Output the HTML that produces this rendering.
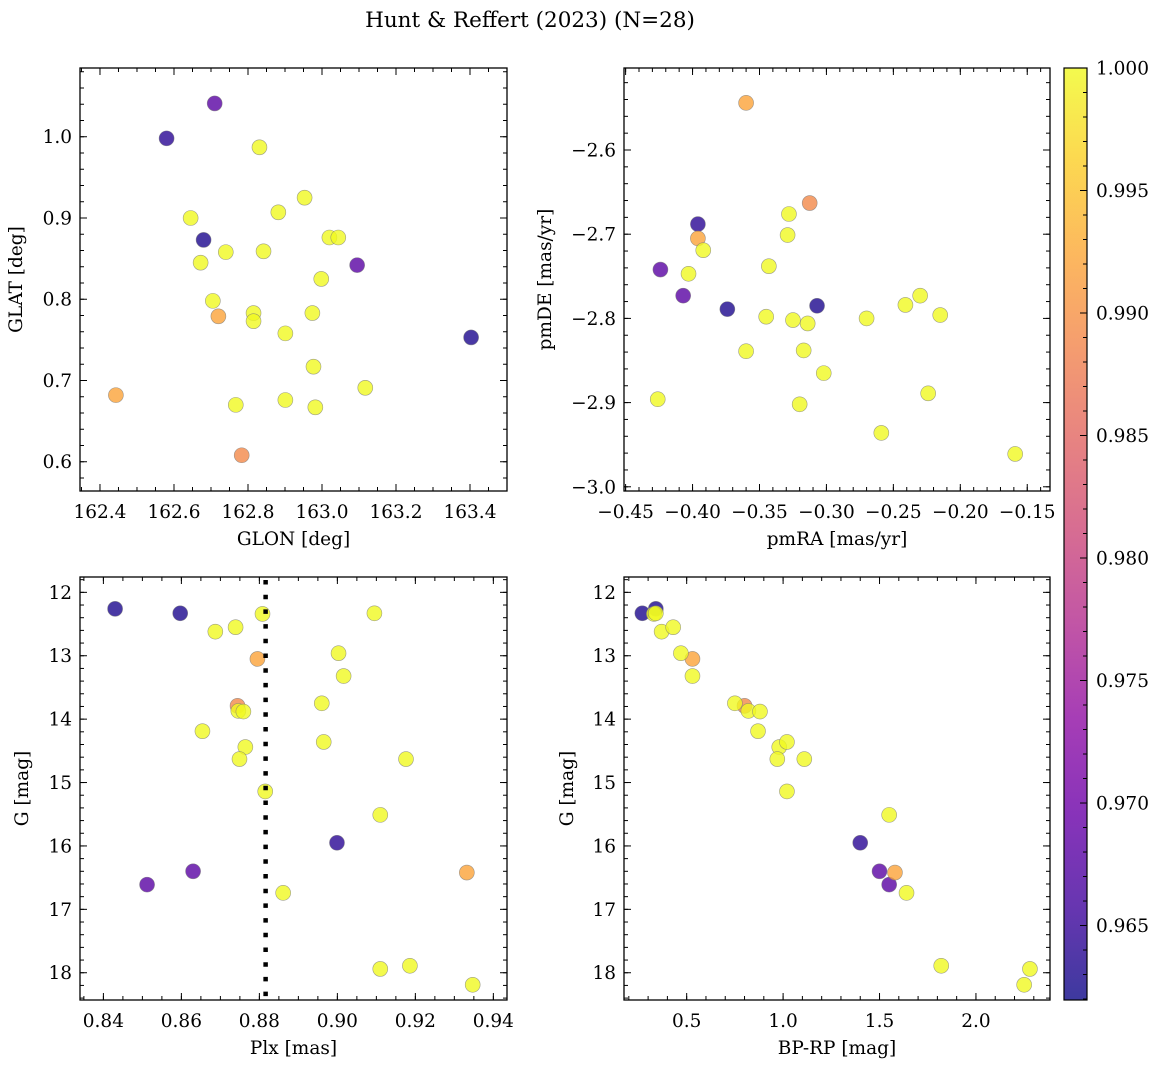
<!DOCTYPE html>
<html><head><meta charset="utf-8"><style>
body{margin:0;background:#fff;}
svg{display:block;font-family:"DejaVu Serif","Liberation Serif",serif;}
</style></head><body>
<svg id="chart" width="1161" height="1067" viewBox="0 0 1161 1067" xmlns="http://www.w3.org/2000/svg">
<defs>
<linearGradient id="plasma" x1="0" y1="1" x2="0" y2="0">
<stop offset="0" stop-color="#0d0887"/><stop offset="0.1" stop-color="#41049d"/><stop offset="0.2" stop-color="#6a00a8"/><stop offset="0.3" stop-color="#8f0da4"/><stop offset="0.4" stop-color="#b12a90"/><stop offset="0.5" stop-color="#cc4778"/><stop offset="0.6" stop-color="#e16462"/><stop offset="0.7" stop-color="#f2844b"/><stop offset="0.8" stop-color="#fca636"/><stop offset="0.9" stop-color="#fcce25"/><stop offset="1" stop-color="#f0f921"/>
</linearGradient>
</defs>
<text x="530" y="27" font-size="21.5" text-anchor="middle">Hunt &amp; Reffert (2023) (N=28)</text>
</svg>
<script>
const prob = [0.963,0.963,0.964,0.968,0.968,0.992,0.992,0.989,1,1,1,1,1,1,1,1,1,1,1,1,1,1,1,1,1,1,1,1];
const glon = [162.68,163.403,162.58,162.71,163.095,162.443,162.72,162.783,162.831,162.645,162.953,162.882,163.02,163.044,162.672,162.74,162.842,162.998,162.705,162.815,162.815,162.901,162.974,162.977,163.117,162.767,162.901,162.982];
const glat = [0.873,0.753,0.998,1.041,0.842,0.682,0.779,0.608,0.987,0.900,0.925,0.907,0.876,0.876,0.845,0.858,0.859,0.825,0.798,0.783,0.773,0.758,0.783,0.717,0.691,0.670,0.676,0.667];
const pmra = [-0.307,-0.374,-0.396,-0.424,-0.407,-0.360,-0.396,-0.3125,-0.392,-0.403,-0.343,-0.328,-0.329,-0.345,-0.325,-0.314,-0.360,-0.317,-0.302,-0.320,-0.426,-0.270,-0.241,-0.230,-0.215,-0.224,-0.259,-0.159];
const pmde = [-2.785,-2.789,-2.688,-2.742,-2.773,-2.544,-2.705,-2.663,-2.719,-2.747,-2.738,-2.676,-2.701,-2.798,-2.802,-2.806,-2.839,-2.838,-2.865,-2.902,-2.896,-2.800,-2.784,-2.773,-2.796,-2.889,-2.936,-2.961];
const plx = [0.843,0.8597,0.8999,0.863,0.8512,0.8795,0.9332,0.8744,0.8808,0.9095,0.8687,0.8739,0.9003,0.9016,0.896,0.8746,0.8759,0.8654,0.8764,0.8965,0.8749,0.9176,0.8815,0.911,0.8861,0.9186,0.911,0.9347];
const bprp = [0.34,0.27,1.40,1.50,1.55,0.53,1.58,0.80,0.33,0.34,0.37,0.43,0.47,0.53,0.75,0.82,0.88,0.87,0.98,1.02,0.97,1.11,1.02,1.55,1.64,1.82,2.28,2.25];
const gmag = [12.26,12.33,15.95,16.40,16.61,13.05,16.42,13.79,12.34,12.33,12.62,12.55,12.96,13.32,13.75,13.87,13.88,14.19,14.44,14.36,14.63,14.63,15.14,15.51,16.74,17.89,17.94,18.19];
const plxRef = [0.8816];
const cbTicks = ["0.965","0.970","0.975","0.980","0.985","0.990","0.995","1.000"];

const NS="http://www.w3.org/2000/svg";
const svg=document.getElementById('chart');
const FS=18.5;
function mk(tag,attrs,parent){const e=document.createElementNS(NS,tag);for(const k in attrs)e.setAttribute(k,attrs[k]);(parent||svg).appendChild(e);return e;}
const stops=[[13,8,135],[65,4,157],[106,0,168],[143,13,164],[177,42,144],[204,71,120],[225,100,98],[242,132,75],[252,166,54],[252,206,37],[240,249,33]];
const vmin=0.96196,vmax=1.0;
function cmap(v){let t=(v-vmin)/(vmax-vmin);t=Math.max(0,Math.min(1,t));const f=t*10,i=Math.min(9,Math.floor(f)),r=f-i;const a=stops[i],b=stops[i+1];return 'rgb('+a.map((c,k)=>Math.round(c+(b[k]-c)*r)).join(',')+')';}
function fmt(v,d){const s=v.toFixed(d);return v<0?'\u2212'+s.slice(1):s;}

function panel(name,box,xd,yd,xMaj,xMin,xDec,yMaj,yMin,yDec,xlab,ylab,ylabX,xs,ys){
  const [L,T,R,B]=box;
  const g=mk('g',{});
  
  
  const sx=v=>L+(v-xd[0])/(xd[1]-xd[0])*(R-L);
  const sy=v=>T+(yd[1]-v)/(yd[1]-yd[0])*(B-T);
  const eps=1e-9;
  function ticks(step,lo,hi){const a=[];for(let v=Math.ceil(lo/step-eps)*step;v<=hi+eps;v+=step)a.push(Math.round(v/step)*step);return a;}
  const tg=mk('g',{stroke:'#000','stroke-width':1},g);
  
  
  ticks(xMin,xd[0],xd[1]).forEach(v=>{const x=sx(v);mk('line',{x1:x,x2:x,y1:B,y2:B-4},tg);mk('line',{x1:x,x2:x,y1:T,y2:T+4},tg);});
  ticks(yMin,Math.min(...yd),Math.max(...yd)).forEach(v=>{const y=sy(v);mk('line',{x1:L,x2:L+4,y1:y,y2:y},tg);mk('line',{x1:R,x2:R-4,y1:y,y2:y},tg);});
  ticks(xMaj,xd[0],xd[1]).forEach(v=>{const x=sx(v);mk('line',{x1:x,x2:x,y1:B,y2:B-7},tg);mk('line',{x1:x,x2:x,y1:T,y2:T+7},tg);
    const t=mk('text',{x:x,y:B+27,'font-size':FS,'text-anchor':'middle',stroke:'none',fill:'#000'},g);t.textContent=fmt(v,xDec);
    
    });
  ticks(yMaj,Math.min(...yd),Math.max(...yd)).forEach(v=>{const y=sy(v);mk('line',{x1:L,x2:L+7,y1:y,y2:y},tg);mk('line',{x1:R,x2:R-7,y1:y,y2:y},tg);
    const t=mk('text',{x:L-8,y:y+6.5,'font-size':FS,'text-anchor':'end',fill:'#000'},g);t.textContent=fmt(v,yDec);
    
    });
  const xl=mk('text',{x:(L+R)/2,y:B+54,'font-size':FS,'text-anchor':'middle'},g);xl.textContent=xlab;
  
  
  const yl=mk('text',{x:ylabX,y:(T+B)/2,'font-size':FS,'text-anchor':'middle',transform:'rotate(-90 '+ylabX+' '+(T+B)/2+')'},g);yl.textContent=ylab;
  
  
  const cp='clip-'+name;
  const c=mk('clipPath',{id:cp},g);mk('rect',{x:L,y:T,width:R-L,height:B-T},c);
  const pg=mk('g',{'clip-path':'url(#'+cp+')'},g);
  
  
  for(let i=0;i<xs.length;i++){
    const p=mk('circle',{cx:sx(xs[i]),cy:sy(ys[i]),r:7.5,fill:cmap(prob[i]),'fill-opacity':0.8,stroke:'#777','stroke-opacity':0.7,'stroke-width':0.6},pg);
    
    
  }
  const sp=mk('rect',{x:L,y:T,width:R-L,height:B-T,fill:'none',stroke:'#000','stroke-width':1.3},g);
  
  
  return {sx,sy,pg};
}

panel('glon-glat-panel',[80,68,507,491],[162.346,163.5],[0.564,1.0846],0.2,0.05,1,0.1,0.02,1,'GLON [deg]','GLAT [deg]',22,glon,glat);
panel('pm-panel',[624,68,1050,491],[-0.4512,-0.133],[-3.005,-2.5026],0.05,0.01,2,0.1,0.02,1,'pmRA [mas/yr]','pmDE [mas/yr]',551,pmra,pmde);
const bl=panel('plx-g-panel',[80,577,507,1000],[0.834,0.9435],[18.43,11.758],0.02,0.005,2,1,0.2,0,'Plx [mas]','G [mag]',28,plx,gmag);
panel('cmd-panel',[624,577,1050,1000],[0.175,2.384],[18.43,11.758],0.5,0.1,1,1,0.2,0,'BP-RP [mag]','G [mag]',573,bprp,gmag);

plxRef.forEach(v=>{const x=bl.sx(v);
  const l=mk('line',{x1:x,x2:x,y1:580,y2:1000,stroke:'#000','stroke-width':4.5,'stroke-dasharray':'4.5 10.2'});
  
  });

const cbT=68,cbB=1000,cbL=1064,cbR=1087;
const cb=mk('rect',{x:cbL,y:cbT,width:cbR-cbL,height:cbB-cbT,fill:'url(#plasma)','fill-opacity':0.8,stroke:'#000','stroke-width':1.2});


const cy=v=>cbB-(v-vmin)/(vmax-vmin)*(cbB-cbT);
for(let k=Math.ceil(vmin*1000);k<=1000;k++){const y=cy(k/1000);const maj=k%5===0;
  mk('line',{x1:cbR,x2:cbR-(maj?7:4),y1:y,y2:y,stroke:'#000','stroke-width':1});}
cbTicks.forEach(s=>{const y=cy(parseFloat(s));
  const t=mk('text',{x:cbR+9,y:y+6.5,'font-size':FS});t.textContent=s;
  
  });
</script>
</body></html>
